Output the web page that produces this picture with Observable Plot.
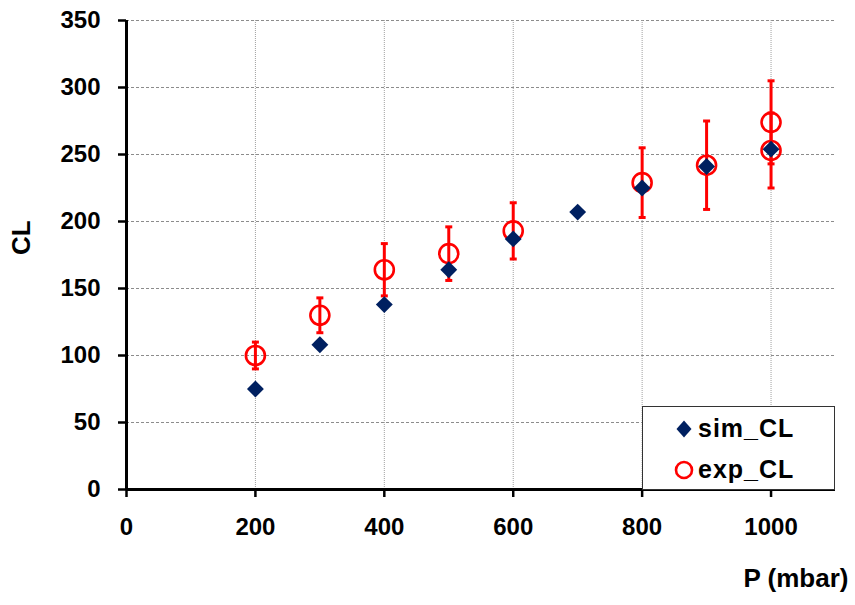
<!DOCTYPE html>
<html>
<head>
<meta charset="utf-8">
<script src="https://cdn.jsdelivr.net/npm/d3@7"></script>
<script src="https://cdn.jsdelivr.net/npm/@observablehq/plot@0.6"></script>
<style>
  html, body { margin: 0; padding: 0; background: white; }
  #wrap { position: relative; width: 855px; height: 605px; font-family: 'Liberation Sans', Arial, sans-serif; }
  #legend { position: absolute; left: 642px; top: 406px; width: 193px; height: 84px; box-sizing: border-box;
            border: 1.5px solid #333; background: white; }
  .sym { position: absolute; }
  .lab { position: absolute; left: 55px; font-size: 25px; line-height: 25px; font-weight: bold; color: black; letter-spacing: 1px; white-space: nowrap; }
</style>
</head>
<body>
<div id="wrap">
  <div id="chart"></div>
  <div id="legend">
    <svg class="sym" style="left:31px;top:12px" width="20" height="20"><path d="M10,1.5 L17.5,10 L10,18.5 L2.5,10 Z" fill="#002060"/></svg>
    <div class="lab" id="l1" style="top:9px"></div>
    <svg class="sym" style="left:30px;top:52px" width="22" height="22"><circle cx="11" cy="11" r="8" fill="none" stroke="#ff0000" stroke-width="2.6"/></svg>
    <div class="lab" id="l2" style="top:50px"></div>
  </div>
</div>
<script>
// Data
const seriesNames = ["sim_CL", "exp_CL"];
const simP = [200, 300, 400, 500, 600, 700, 800, 900, 1000];
const simCL = [75, 108, 138, 164, 187, 207, 225, 241, 254];
const expP = [200, 300, 400, 500, 600, 800, 900, 1000, 1000];
const expCL = [100, 130, 164, 176, 193, 229, 242, 274, 253];
const expErr = [10, 13, 19.5, 20, 21, 26, 33, 31, 28];
const xTicks = [0, 200, 400, 600, 800, 1000];
const yTicks = [0, 50, 100, 150, 200, 250, 300, 350];
const xLabel = "P (mbar)";
const yLabel = "CL";

const sim = simP.map((p, i) => ({p, v: simCL[i]}));
const exp = expP.map((p, i) => ({p, v: expCL[i], lo: expCL[i] - expErr[i], hi: expCL[i] + expErr[i]}));

const capSymbol = {
  draw(context, size) {
    const r = Math.sqrt(size / Math.PI);
    context.moveTo(-r, 0);
    context.lineTo(r, 0);
  }
};

const chart = Plot.plot({
  width: 855,
  height: 605,
  marginLeft: 126,
  marginRight: 20,
  marginTop: 20,
  marginBottom: 116,
  x: {domain: [0, 1100]},
  y: {domain: [0, 350]},
  style: {fontFamily: "'Liberation Sans', Arial, sans-serif", fontWeight: "bold", background: "white", color: "black"},
  marks: [
    Plot.gridY(yTicks.filter(d => d > 0), {stroke: "#8c8c8c", strokeOpacity: 1, strokeWidth: 1, strokeDasharray: "3,2"}),
    Plot.gridX(xTicks.filter(d => d > 0), {stroke: "#a0a0a0", strokeOpacity: 1, strokeWidth: 1, strokeDasharray: "1,1"}),
    Plot.axisY({ticks: yTicks, tickSize: 8, tickPadding: 18, fontSize: 24, label: null, strokeWidth: 2.5}),
    Plot.axisX({ticks: xTicks, tickSize: 8, tickPadding: 20, fontSize: 24, label: null, strokeWidth: 2.5, tickFormat: d => String(d)}),
    Plot.ruleX([0], {stroke: "black", strokeWidth: 3}),
    Plot.ruleY([0], {stroke: "black", strokeWidth: 3}),
    Plot.ruleX(exp, {x: "p", y1: "lo", y2: "hi", stroke: "#ff0000", strokeWidth: 3}),
    Plot.dot(exp, {x: "p", y: "lo", symbol: capSymbol, r: 3.5, stroke: "#ff0000", strokeWidth: 3, fill: "none"}),
    Plot.dot(exp, {x: "p", y: "hi", symbol: capSymbol, r: 3.5, stroke: "#ff0000", strokeWidth: 3, fill: "none"}),
    Plot.dot(exp, {x: "p", y: "v", r: 9.5, stroke: "#ff0000", strokeWidth: 2.6, fill: "none"}),
    Plot.dot(sim, {x: "p", y: "v", symbol: "diamond2", r: 7.6, fill: "#002060", stroke: "none"}),
    Plot.text([yLabel], {text: d => d, frameAnchor: "left", dx: -105, rotate: -90, fontSize: 26, fontWeight: "bold", fill: "black"}),
    Plot.text([xLabel], {text: d => d, frameAnchor: "bottom-right", textAnchor: "end", dx: 13, dy: 97, fontSize: 26, fontWeight: "bold", fill: "black"})
  ]
});
document.getElementById("chart").appendChild(chart);
document.getElementById("l1").textContent = seriesNames[0];
document.getElementById("l2").textContent = seriesNames[1];
</script>
</body>
</html>
